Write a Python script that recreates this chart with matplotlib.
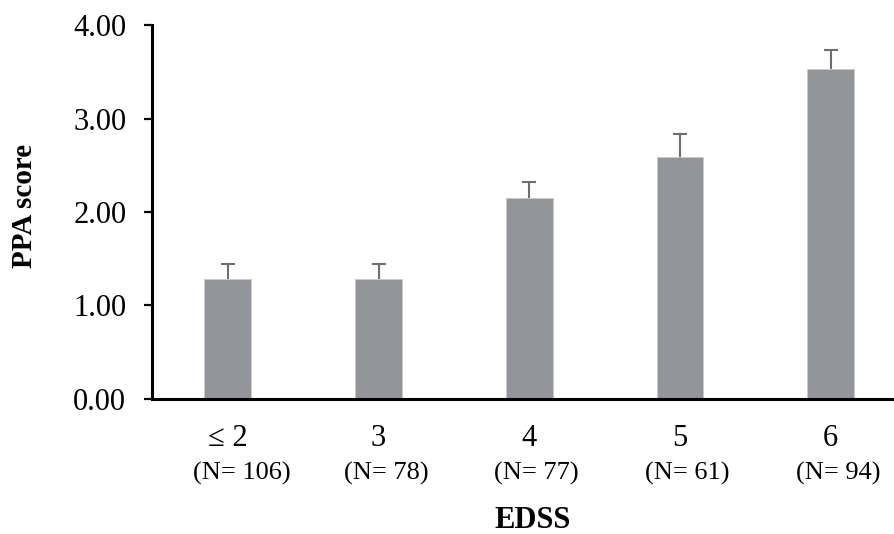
import numpy as np
import matplotlib.pyplot as plt
import matplotlib.transforms as mtransforms

plt.rcParams['font.family'] = ['Liberation Serif', 'DejaVu Serif']

# data
edss = ['≤ 2', '3', '4', '5', '6']
n_counts = [106, 78, 77, 61, 94]
ppa_mean = [1.28, 1.28, 2.15, 2.59, 3.53]
ppa_err = [0.16, 0.16, 0.17, 0.24, 0.20]
y_ticks = [0, 1, 2, 3, 4]

fig = plt.figure(figsize=(8.94, 5.34), dpi=100)
ax = fig.add_axes([0.170, 0.253, 0.830, 0.700])

x = np.arange(len(edss))
ax.bar(x, ppa_mean, width=0.31, color='#939598', edgecolor='#c9cacc', linewidth=0.6, zorder=2)
eb = ax.errorbar(x, ppa_mean, yerr=[np.zeros(len(x)), ppa_err], fmt='none',
                 ecolor='#6d6e71', elinewidth=1.5, capsize=5, capthick=1.5, zorder=3)
# only the upper cap is shown
for cl in eb[1]:
    if np.allclose(cl.get_ydata(), ppa_mean):
        cl.set_visible(False)

ax.set_xlim(-0.503, 4.42)
ax.set_ylim(0, 4)
ax.set_yticks(y_ticks)
ax.set_yticklabels(['%.2f' % v for v in y_ticks], fontsize=22)
ax.tick_params(axis='y', direction='out', length=6, width=1.6, pad=12.5, color='black')
ax.set_xticks(x)
ax.set_xticklabels([])
ax.tick_params(axis='x', length=0)

for s in ['top', 'right']:
    ax.spines[s].set_visible(False)
for s in ['left', 'bottom']:
    ax.spines[s].set_linewidth(2.2)

trans = mtransforms.blended_transform_factory(ax.transData, ax.transAxes)
n_trans = trans + mtransforms.ScaledTranslation(-35 / 100, 0, fig.dpi_scale_trans)
for i in range(len(edss)):
    ax.text(x[i], -0.126, edss[i], transform=trans, ha='center', va='baseline', fontsize=22)
    ax.text(x[i], -0.217, '(N= %d)' % n_counts[i], transform=n_trans, ha='left', va='baseline', fontsize=19)

fig.text(25 / 894, 1 - 206 / 534, 'PPA score', rotation=90, ha='center', va='center',
         fontsize=21, fontweight='bold')
fig.text(533 / 894, 1 - 521 / 534, 'EDSS', ha='center', va='center', fontsize=22, fontweight='bold')

fig.savefig('out.png', dpi=100)
